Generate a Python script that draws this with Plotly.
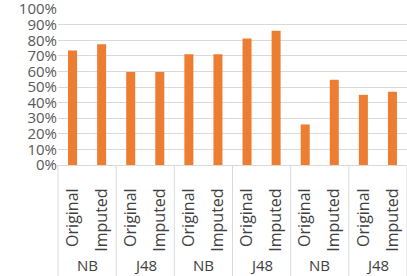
import plotly.graph_objects as go

groups = ["NB", "J48", "NB", "J48", "NB", "J48"]
versions = ["Original", "Imputed"] * 6
values = [0.734, 0.774, 0.597, 0.597, 0.711, 0.711, 0.812, 0.861, 0.26, 0.546, 0.45, 0.47]
yticks = [i / 10 for i in range(11)]
yticklabels = [f"{i*10}%" for i in range(11)]

n = len(values)
xpos = list(range(n))

fig = go.Figure(go.Bar(
    x=xpos,
    y=values,
    marker=dict(color="#ED7D31", line=dict(width=0)),
))

# group labels and dividers below the axis (positions derived from category layout)
for gi, g in enumerate(groups):
    fig.add_annotation(
        x=(gi + 0.5) / len(groups), xref="paper",
        y=-0.64, yref="paper",
        text=g, showarrow=False,
        font=dict(family="Open Sans", size=15, color="#404040", weight=500),
        xanchor="center", yanchor="middle",
    )
for gi in range(len(groups) + 1):
    fig.add_shape(
        type="line", xref="paper", yref="paper",
        x0=gi / len(groups), x1=gi / len(groups), y0=0, y1=-0.75,
        line=dict(color="#d9d9d9", width=1),
    )

fig.update_layout(
    width=407, height=276,
    margin=dict(l=58, r=0, t=9, b=111, autoexpand=False),
    paper_bgcolor="white", plot_bgcolor="white",
    bargap=0.69,
    showlegend=False,
    font=dict(family="Open Sans", color="#595959", size=15),
)
fig.update_xaxes(
    range=[-0.5, n - 0.5],
    tickvals=xpos, ticktext=versions,
    tickangle=-90,
    showline=True, linecolor="#d9d9d9", linewidth=1,
    tickfont=dict(family="Open Sans", size=16, color="#404040", weight=500),
    ticklabelstandoff=16,
    ticks="",
    showgrid=False,
    zeroline=False,
    automargin=False,
)
fig.update_yaxes(
    range=[0, 1.0005],
    tickvals=yticks, ticktext=yticklabels,
    showgrid=True, gridcolor="#d9d9d9", gridwidth=1,
    zeroline=False,
    tickfont=dict(family="Open Sans", size=15, color="#595959"),
    ticklabeloverflow="allow",
    automargin=False,
)
fig.write_html(
    "out.html",
    config={"displayModeBar": False},
    post_script="document.body.style.margin='0';document.body.style.overflow='hidden';",
)
